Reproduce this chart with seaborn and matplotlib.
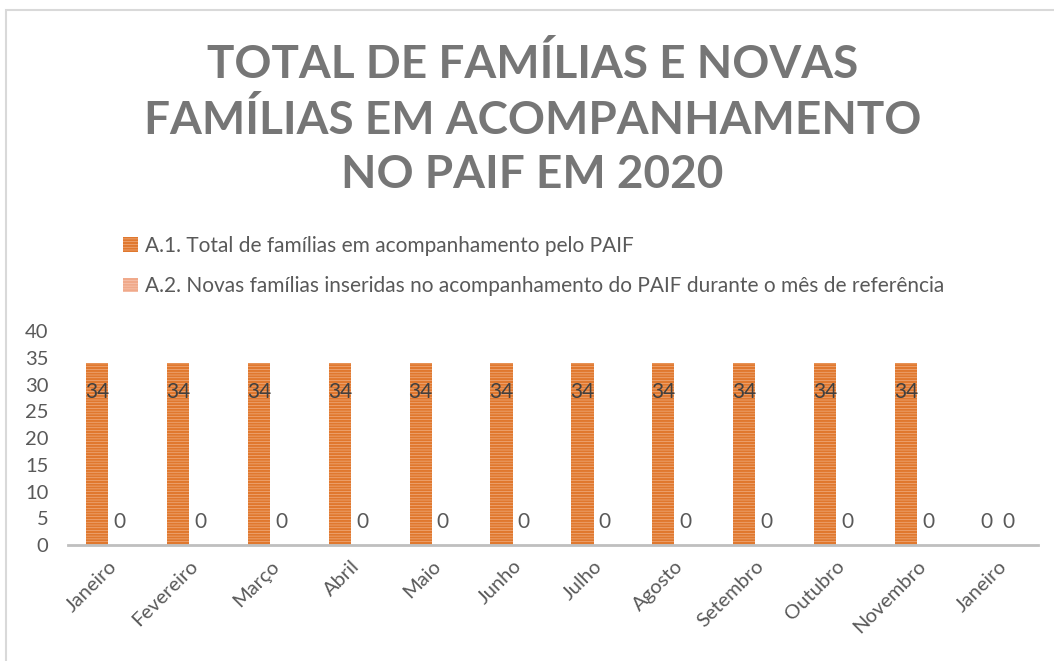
import pandas as pd
import matplotlib
matplotlib.use("Agg")
import matplotlib.pyplot as plt
import seaborn as sns
from matplotlib.patches import Rectangle

# dados
meses = ["Janeiro", "Fevereiro", "Março", "Abril", "Maio", "Junho",
         "Julho", "Agosto", "Setembro", "Outubro", "Novembro", "Janeiro"]
total_familias = [34, 34, 34, 34, 34, 34, 34, 34, 34, 34, 34, 0]
novas_familias = [0, 0, 0, 0, 0, 0, 0, 0, 0, 0, 0, 0]
serie_a1 = "A.1. Total de famílias em acompanhamento pelo PAIF"
serie_a2 = "A.2. Novas famílias inseridas no acompanhamento do PAIF durante o mês de referência"
titulo = "TOTAL DE FAMÍLIAS E NOVAS\nFAMÍLIAS EM ACOMPANHAMENTO\nNO PAIF EM 2020"

# meses repetidos (Janeiro) -> usa o índice como categoria
df = pd.DataFrame({
    "pos": list(range(len(meses))) * 2,
    "valor": total_familias + novas_familias,
    "serie": [serie_a1] * len(meses) + [serie_a2] * len(meses),
})

sns.set_style("white")
plt.rcParams["font.family"] = ["Lato", "DejaVu Sans"]
plt.rcParams["hatch.linewidth"] = 1.6

fig = plt.figure(figsize=(10.54, 6.61), dpi=100)
ax = fig.add_axes([0.0645, 0.1755, 0.9205, 0.3237])

sns.barplot(data=df, x="pos", y="valor", hue="serie", width=0.55,
            palette=["#F4BC96", "#F7C9B6"], ax=ax, legend=False)

# listras horizontais como no Excel
estilos = [("#F4BC96", "#E0782E"), ("#F8CDBB", "#F0A98A")]
for cont, (fc, hc) in zip(ax.containers, estilos):
    for barra in cont:
        barra.set_facecolor(fc)
        barra.set_edgecolor(hc)
        barra.set_hatch("------")
        barra.set_linewidth(0)

cinza = "#595959"
ax.bar_label(ax.containers[0], labels=[str(v) if v else "" for v in total_familias],
             padding=-28, fontsize=15, color="#404040")
ax.bar_label(ax.containers[1], labels=[str(v) for v in novas_familias],
             padding=9, fontsize=15, color=cinza)
# o último mês tem zero também na série A.1
ax.bar_label(ax.containers[0], labels=[""] * 11 + ["0"], padding=9, fontsize=15, color=cinza)

ax.set_ylim(0, 40)
ax.set_yticks(range(0, 41, 5))
ax.set_xticks(range(len(meses)))
ax.set_xticklabels(meses, rotation=45, ha="right", rotation_mode="anchor")
ax.tick_params(axis="both", labelsize=14.5, colors=cinza, length=0)
ax.tick_params(axis="x", pad=9)
ax.tick_params(axis="y", pad=14)
ax.set_xlabel("")
ax.set_ylabel("")
for lado in ["top", "right", "left"]:
    ax.spines[lado].set_visible(False)
ax.spines["bottom"].set_color("#BFBFBF")
ax.spines["bottom"].set_linewidth(2)
ax.set_xlim(-0.5, len(meses) - 0.5)

fig.text(0.505, 0.935, titulo, ha="center", va="top", fontsize=33, fontweight="bold",
         color="#767676", linespacing=1.36)

fig.legend(ax.containers, [serie_a1, serie_a2], loc="upper left",
           bbox_to_anchor=(0.099, 0.672), frameon=False, fontsize=15,
           labelcolor=cinza, handlelength=0.7, handleheight=0.7,
           handletextpad=0.35, labelspacing=1.0)

# moldura do gráfico (cortada à direita e embaixo)
fig.patches.append(Rectangle((6 / 1054, -0.1), 1.2, 1.1 - 10 / 661,
                             transform=fig.transFigure, fill=False,
                             edgecolor="#D9D9D9", linewidth=1.5))

fig.savefig("out.png", dpi=100)
